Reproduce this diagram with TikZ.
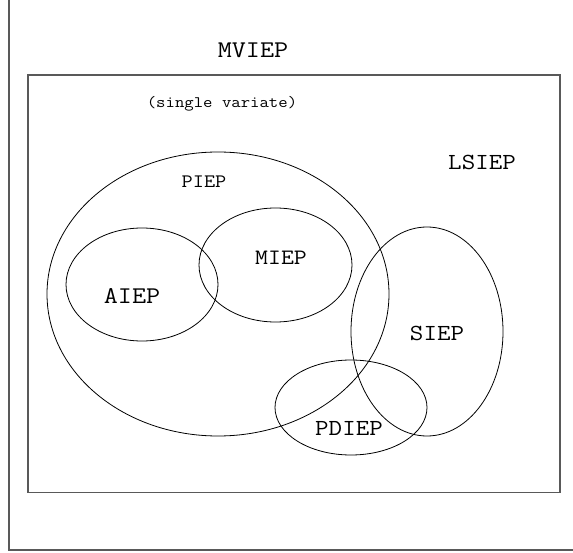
\documentclass[tikz,border=0pt]{standalone}
\usepackage{fontspec}
\newfontfamily\vennfont[FakeStretch=1.14]{Latin Modern Mono}
\newcommand{\vennsize}[1]{\fontsize{#1}{#1}\selectfont}

\begin{document}
\begin{tikzpicture}[x=1pt,y=1pt,
		frame/.style={draw=black!65, line width=1.3pt},
		set/.style={draw=black, line width=0.8pt},
		lbl/.style={font=\vennfont, inner sep=0pt, anchor=base}]
		\useasboundingbox (0,0) rectangle (573,552);
		\clip (0,0) rectangle (573,552);
		%\draw[help lines, step=50] (0,0) grid (573,552);
		\draw[frame] (9,2) rectangle (640,620);%outer frame
		\draw[frame] (28,59.3) rectangle (560,477);%univariate box
		
		\draw[set] (218,258) ellipse (171 and 142);%PIEP
		\draw[set] (142,267.5) ellipse (76 and 56.5);%AIEP
		\draw[set] (275.5,287) ellipse (76.5 and 57);%MIEP
		\draw[set] (427,220.5) ellipse (76 and 104.5);%SIEP
		\draw[set] (351,144.5) ellipse (76 and 47.5);%PDIEP
		
		\node[lbl, font=\vennfont\vennsize{24}] (mviep) at (253,494.7) {MVIEP};
		\node[lbl, font=\vennfont\vennsize{16}] (single) at (222,444.7) {(single variate)};
		\node[lbl, font=\vennfont\vennsize{23}] (lsiep) at (482,382.7) {LSIEP};
		\node[lbl, font=\vennfont\vennsize{19}] (piep) at (204,364.7) {PIEP};
		\node[lbl, font=\vennfont\vennsize{22}] (miep) at (281,287) {MIEP};
		\node[lbl, font=\vennfont\vennsize{24}] (aiep) at (132,248.7) {AIEP};
		\node[lbl, font=\vennfont\vennsize{23}] (siep) at (437,211.3) {SIEP};
		\node[lbl, font=\vennfont\vennsize{23}] (pdiep) at (349,117) {PDIEP};
\end{tikzpicture}
\end{document}
